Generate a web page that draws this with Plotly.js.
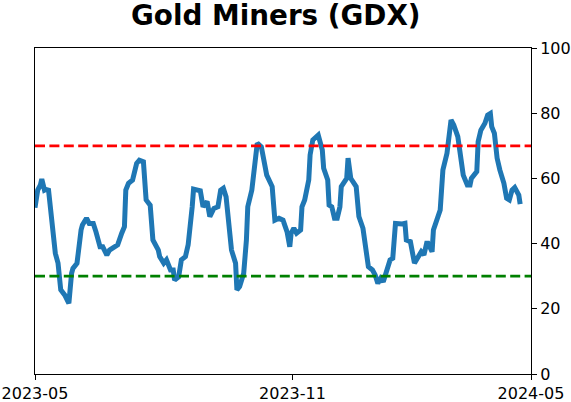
<!DOCTYPE html>
<html>
<head>
<meta charset="utf-8">
<script src="https://cdn.plot.ly/plotly-3.0.1.min.js"></script>
<style>html,body{margin:0;padding:0;background:#fff;}#chart{width:571px;height:402px;}</style>
</head>
<body>
<div id="chart"></div>
<script>
// Days after 2023-05-01 for each reading
const dayOffsets = [0,2,4,5,7,8,10,12,13,15,17,19,22,25,27,28,31,32,34,35,38,40,43,45,48,50,53,55,58,61,64,66,67,69,72,75,77,80,82,85,87,91,
  92,95,97,100,102,103,106,108,111,113,116,117,122,124,127,129,132,135,137,139,141,144,145,148,149,151,154,156,157,160,162,164,167,170,171,175,177,180,183,186,187,
  188,189,191,193,196,197,199,202,203,205,209,212,213,216,217,219,221,223,225,226,230,231,233,237,239,242,245,246,249,251,253,255,257,260,262,264,266,271,273,274,277,280,
  283,285,287,289,290,293,294,296,299,301,304,307,309,312,314,316,319,321,322,326,327,329,332,334,336,337,339,341,343,346,348,350,352,354,357,358];
const values = [51,56.4,58,59.8,56.4,56.6,56.4,48.3,43.2,37,34,25.8,24.2,21.7,30.9,32.4,34,38,44.2,45.7,47.8,46.2,46.2,43.6,39,39,36.5,38,38.6,39.6,43.2,45.2,56.4,58.5,59.5,64.6,65.6,65.1,53.4,51.8,41.1,38,
  36,34,35,31.9,31.9,28.8,29.8,35,36,39.6,51.3,56.7,56.2,51.3,52.9,48.3,50.8,51.3,56.4,57,54.4,44.2,38,34,25.8,26.8,30.9,41.1,51.3,56.4,64.6,70.8,69.7,63.6,61,57.5,47.2,47.8,47.2,43.6,40.1,
  39,43.2,44.7,43.2,44.2,51.3,53.4,59.5,67.2,71.8,73.3,68.7,63.1,59.5,51.8,51.3,47.8,47.8,51.3,57.5,60,66.2,60,57.5,48.3,44.7,37,32.9,31.9,30.4,27.8,29.3,28.3,32.4,35,35.5,46.2,46,46.2,41.1,40.6,34,
  36,37.5,36.5,40.1,40.1,37.5,44.2,47.2,50.3,62.6,67.7,77.9,76.4,72.8,67.2,61,58,58,60,62.1,71.3,74.8,76.9,79.4,79.9,75.9,73.8,66.2,62.6,58.5,53.9,53.4,56.4,57.2,54.9,52.1];
const startDate = '2023-05-01';
const endDate = '2024-05-01';
const tickDates = ['2023-05-01', '2023-11-07', '2024-05-01'];
const tickLabels = ['2023-05', '2023-11', '2024-05'];
const yTicks = [0, 20, 40, 60, 80, 100];
const upperLevel = 70;
const lowerLevel = 30;
const chartTitle = 'Gold Miners (GDX)';

const base = Date.UTC(2023, 4, 1);
const dates = dayOffsets.map(d => new Date(base + d * 86400000).toISOString().slice(0, 10));

const font = "'DejaVu Sans', sans-serif";
const trace = {
  x: dates, y: values, type: 'scatter', mode: 'lines',
  line: {color: '#1f77b4', width: 5}, hoverinfo: 'skip'
};
const layout = {
  width: 571, height: 402,
  margin: {l: 35, r: 40, t: 48, b: 28},
  paper_bgcolor: '#fff', plot_bgcolor: '#fff',
  showlegend: false,
  font: {family: font, size: 16, color: '#000'},
  title: {text: '<b>' + chartTitle + '</b>', font: {family: font, size: 27.8, color: '#000'},
          x: 0.483, xref: 'container', xanchor: 'center', y: 0.963, yref: 'container', yanchor: 'middle'},
  xaxis: {type: 'date', range: [startDate, endDate], tickvals: tickDates, ticktext: tickLabels,
          showgrid: false, zeroline: false, showline: true, linecolor: '#000', linewidth: 1, mirror: true,
          ticks: 'outside', ticklen: 5, tickwidth: 1, tickcolor: '#000', tickfont: {size: 16}},
  yaxis: {range: [0, 100], side: 'right', tickvals: yTicks, showgrid: false, zeroline: false,
          showline: true, linecolor: '#000', linewidth: 1, mirror: true,
          ticks: 'outside', ticklen: 5, tickwidth: 1, tickcolor: '#000', tickfont: {size: 16}},
  shapes: [
    {type: 'line', xref: 'paper', x0: 0, x1: 1, yref: 'y', y0: upperLevel, y1: upperLevel,
     line: {color: 'red', width: 2.8, dash: '10px,4.4px'}, layer: 'above'},
    {type: 'line', xref: 'paper', x0: 0, x1: 1, yref: 'y', y0: lowerLevel, y1: lowerLevel,
     line: {color: 'green', width: 2.8, dash: '10px,4.4px'}, layer: 'above'}
  ]
};
Plotly.newPlot('chart', [trace], layout, {staticPlot: true, displayModeBar: false});
</script>
</body>
</html>
